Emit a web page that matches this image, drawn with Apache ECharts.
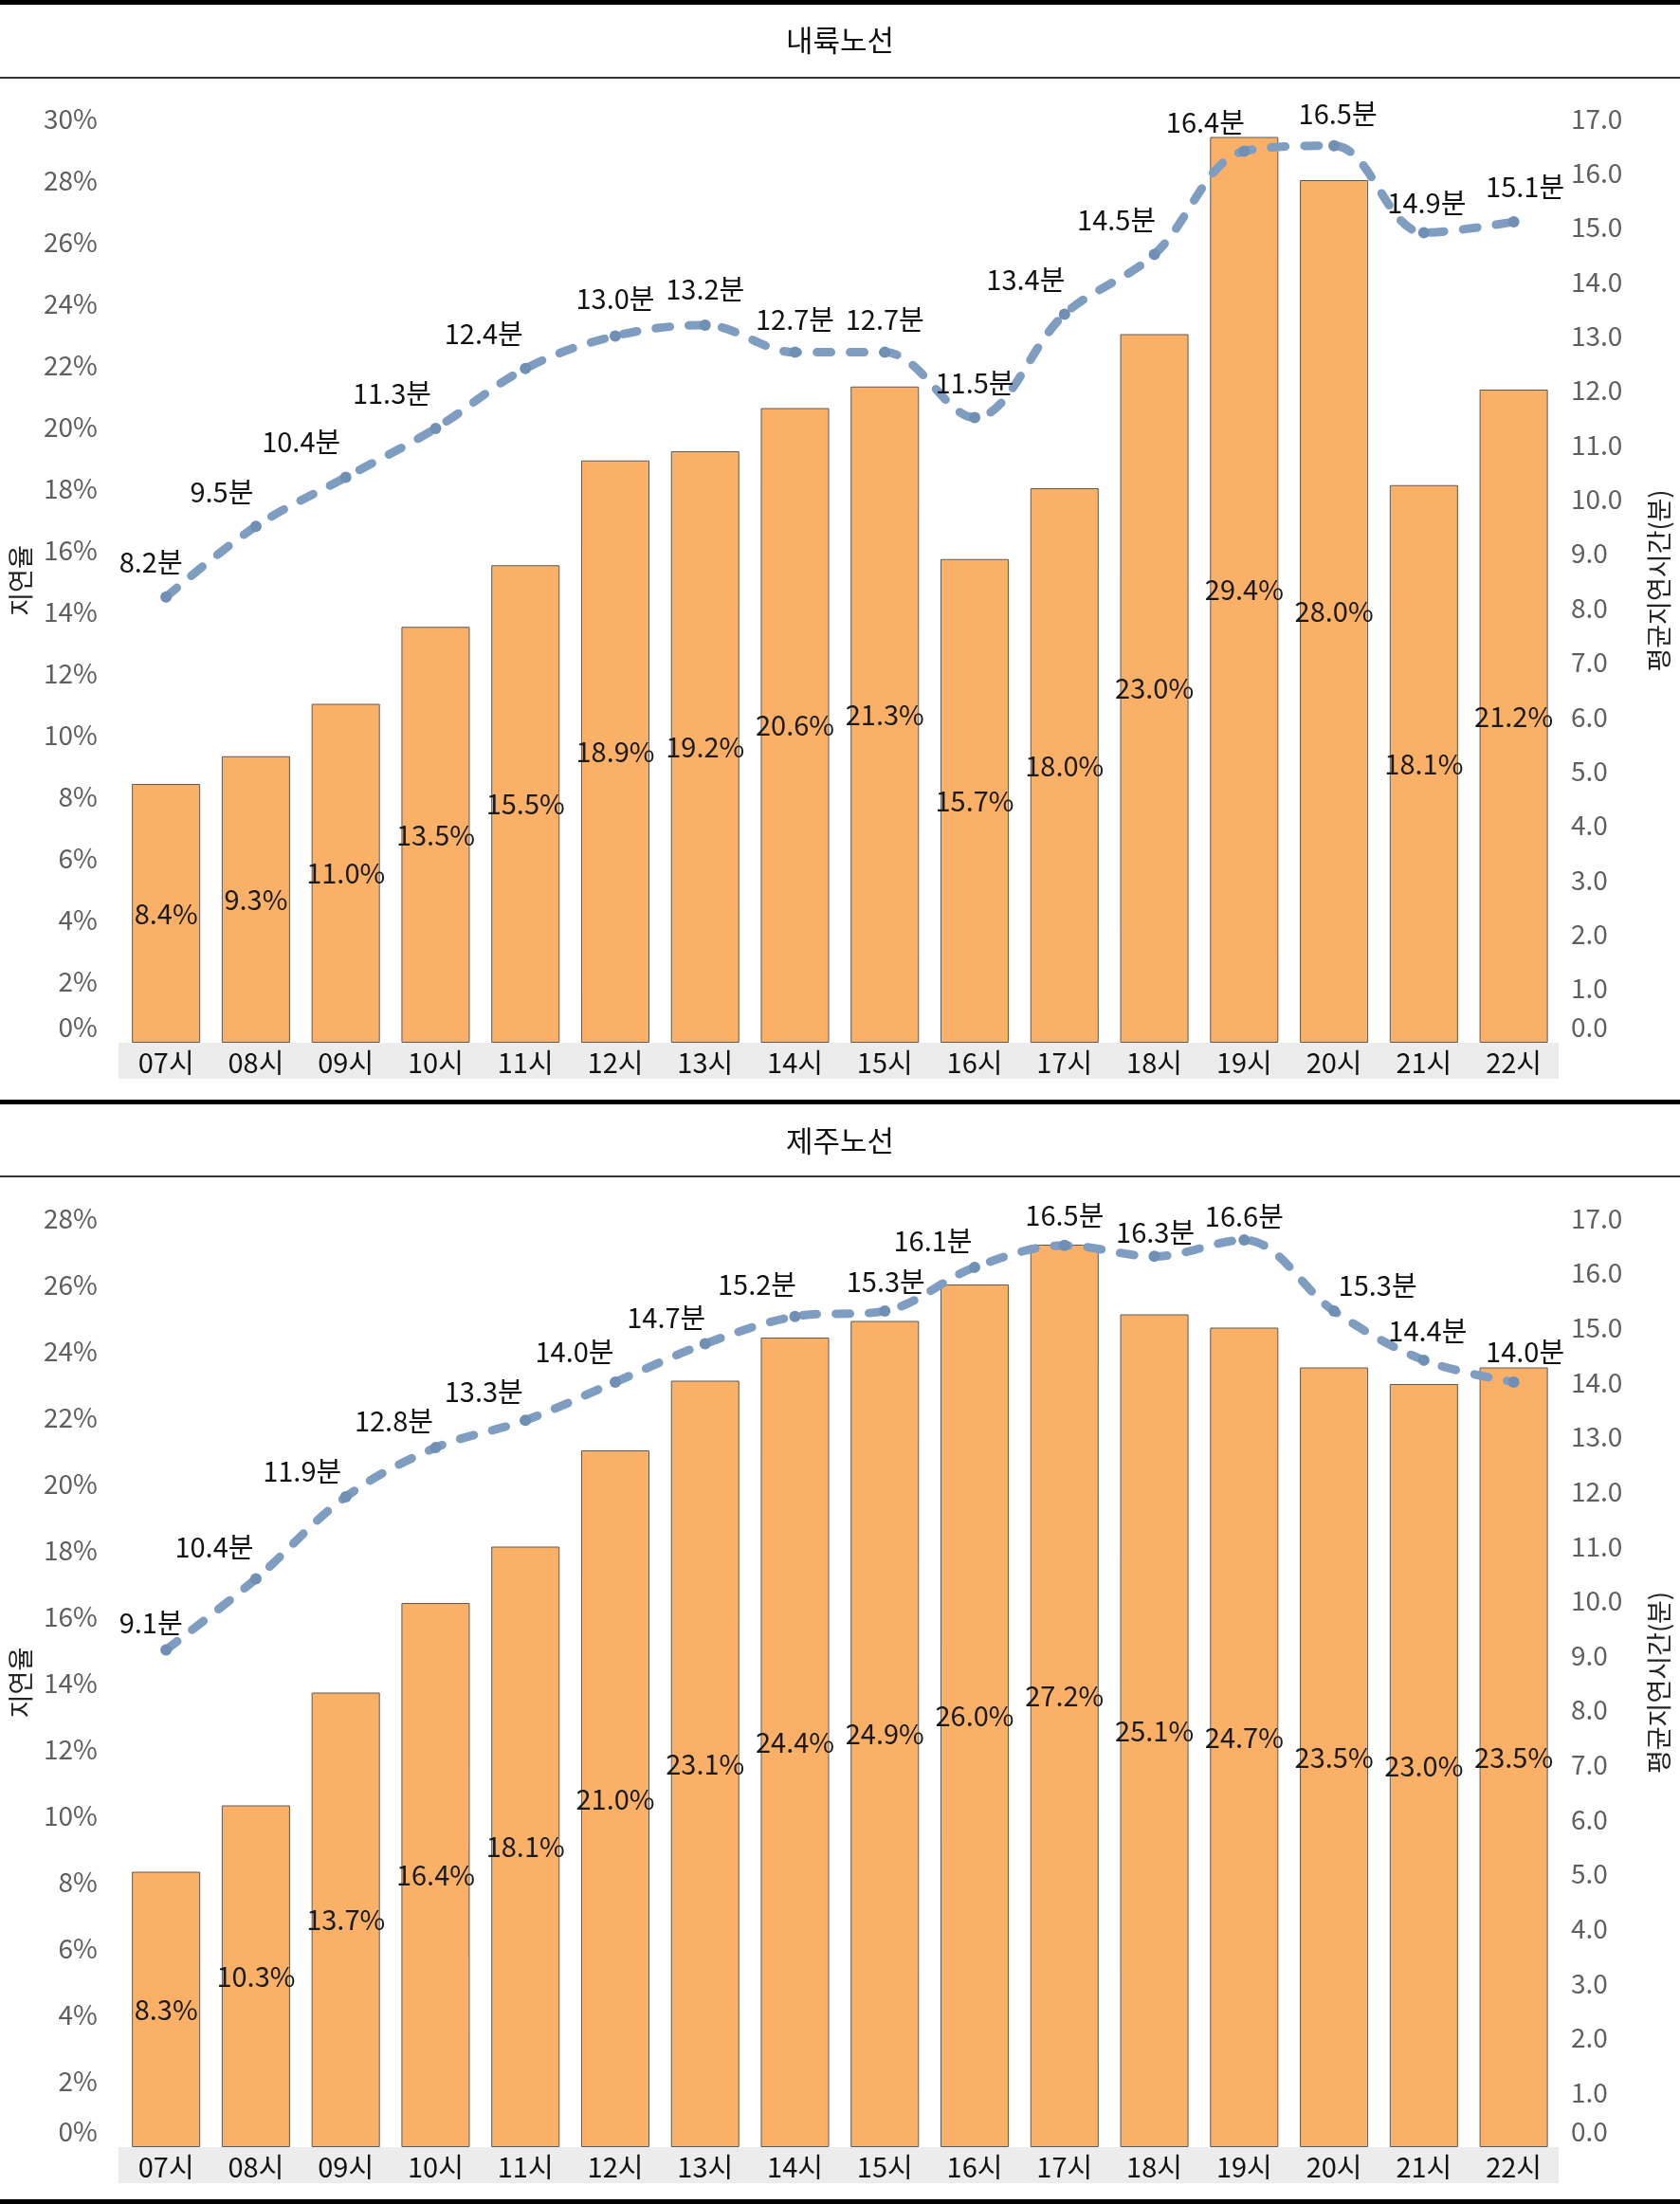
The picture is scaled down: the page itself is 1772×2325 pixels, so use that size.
<!DOCTYPE html>
<html>
<head>
<meta charset="utf-8">
<script src="https://cdn.jsdelivr.net/npm/echarts@6/dist/echarts.min.js"></script>
<style>
  html, body { margin: 0; padding: 0; background: #fff; }
  #chart { width: 1772px; height: 2325px; }
</style>
</head>
<body>
<div id="chart"></div>
<script>
// 시간대 (categories)
const hours = ['07시', '08시', '09시', '10시', '11시', '12시', '13시', '14시', '15시', '16시', '17시', '18시', '19시', '20시', '21시', '22시'];

// 내륙노선
const inlandRate = [8.4, 9.3, 11.0, 13.5, 15.5, 18.9, 19.2, 20.6, 21.3, 15.7, 18.0, 23.0, 29.4, 28.0, 18.1, 21.2];
const inlandDelay = [8.2, 9.5, 10.4, 11.3, 12.4, 13.0, 13.2, 12.7, 12.7, 11.5, 13.4, 14.5, 16.4, 16.5, 14.9, 15.1];

// 제주노선
const jejuRate = [8.3, 10.3, 13.7, 16.4, 18.1, 21.0, 23.1, 24.4, 24.9, 26.0, 27.2, 25.1, 24.7, 23.5, 23.0, 23.5];
const jejuDelay = [9.1, 10.4, 11.9, 12.8, 13.3, 14.0, 14.7, 15.2, 15.3, 16.1, 16.5, 16.3, 16.6, 15.3, 14.4, 14.0];

// label nudges for the line labels (layout only)
const inlandLabelShift = [[-16, -11], [-36, -11], [-47, -12], [-46, -11], [-44, -11], [0, -14], [0, -12], [0, -9], [0, -9], [0, -11], [-41, -11], [-40, -11], [-41, -5], [4, -8], [3, -6], [12, -11]];
const jejuLabelShift = [[-16, -3], [-44, -8], [-46, -2], [-44, -3], [-44, -5], [-43, -6], [-41, -2], [-40, -8], [1, -6], [-44, -2], [0, -6], [1, 0], [0, 0], [46, -2], [4, -5], [12, -6]];

const FONT = '"Noto Sans CJK KR", "Noto Sans", sans-serif';
const W = 1772;
const PLOT_L = 125, PLOT_R = 1644;

const grids = [
  { top: 125, bottom: 1100 },
  { top: 1285, bottom: 2265 }
];

function leftAxis(gridIndex, max) {
  return {
    type: 'value', gridIndex: gridIndex, position: 'left',
    min: 0, max: max, interval: 2,
    name: '지연율', nameLocation: 'middle', nameRotate: 90, nameGap: 84,
    nameTextStyle: { fontFamily: FONT, fontSize: 27, color: '#222' },
    axisLine: { show: false }, axisTick: { show: false }, splitLine: { show: false },
    axisLabel: {
      margin: 25, fontFamily: FONT, fontSize: 28, color: '#5f5f5f',
      formatter: v => v === 0 ? '{z|0%}' : v + '%',
      rich: { z: { fontFamily: FONT, fontSize: 28, color: '#5f5f5f', padding: [0, 0, 34, 0] } }
    }
  };
}

function rightAxis(gridIndex) {
  return {
    type: 'value', gridIndex: gridIndex, position: 'right',
    min: 0, max: 17, interval: 1,
    name: '평균지연시간(분)', nameLocation: 'middle', nameRotate: 90, nameGap: 92,
    nameTextStyle: { fontFamily: FONT, fontSize: 27, color: '#222' },
    axisLine: { show: false }, axisTick: { show: false }, splitLine: { show: false },
    axisLabel: {
      margin: 13, fontFamily: FONT, fontSize: 28, color: '#5f5f5f',
      formatter: v => v === 0 ? '{z|0.0}' : v.toFixed(1),
      rich: { z: { fontFamily: FONT, fontSize: 28, color: '#5f5f5f', padding: [0, 0, 34, 0] } }
    }
  };
}

function barSeries(data, xi, yi) {
  return {
    type: 'bar', xAxisIndex: xi, yAxisIndex: yi, data: data,
    barCategoryGap: '24%',
    itemStyle: { color: '#fbb067', borderColor: '#5a5a5a', borderWidth: 1 },
    label: {
      show: true, position: 'inside', fontFamily: FONT, fontSize: 29, color: '#1a1a1a',
      formatter: p => p.value.toFixed(1) + '%'
    },
    z: 2
  };
}

function lineSeries(values, shifts, xi, yi) {
  return {
    type: 'line', xAxisIndex: xi, yAxisIndex: yi,
    data: values.map((v, i) => ({ value: v, label: { offset: shifts[i] } })),
    smooth: 0.35,
    symbol: 'circle', symbolSize: 12,
    itemStyle: { color: '#6f8fb4' },
    lineStyle: { color: '#7f9dc0', width: 9, type: [15, 20], cap: 'round' },
    label: {
      show: true, position: 'top', distance: 5, fontFamily: FONT, fontSize: 29, color: '#111',
      formatter: p => p.value.toFixed(1) + '분'
    },
    z: 5
  };
}

function hRule(y, h, color) {
  return { type: 'rect', z: 10, shape: { x: 0, y: y, width: W, height: h }, style: { fill: color } };
}

function band(y) {
  return { type: 'rect', z: -1, shape: { x: PLOT_L, y: y, width: PLOT_R - PLOT_L, height: 38 }, style: { fill: '#ececec' } };
}

function title(text, y) {
  return {
    type: 'text', z: 10, x: W / 2, y: y,
    style: { text: text, fontFamily: FONT, fontSize: 31, fill: '#111', align: 'center', verticalAlign: 'middle' }
  };
}

const chart = echarts.init(document.getElementById('chart'));
chart.setOption({
  animation: false,
  backgroundColor: '#fff',
  grid: grids.map(g => ({ left: PLOT_L, right: W - PLOT_R, top: g.top, height: g.bottom - g.top })),
  xAxis: [0, 1].map(i => ({
    type: 'category', gridIndex: i, data: hours,
    axisLine: { show: false }, axisTick: { show: false },
    axisLabel: { margin: 6, fontFamily: FONT, fontSize: 29, color: '#111' }
  })),
  yAxis: [leftAxis(0, 30), rightAxis(0), leftAxis(1, 28), rightAxis(1)],
  series: [
    barSeries(inlandRate, 0, 0),
    lineSeries(inlandDelay, inlandLabelShift, 0, 1),
    barSeries(jejuRate, 1, 2),
    lineSeries(jejuDelay, jejuLabelShift, 1, 3)
  ],
  graphic: { elements: [
    hRule(0, 5, '#000'),
    title('내륙노선', 42),
    hRule(81, 2, '#333'),
    band(1100),
    hRule(1160, 5, '#000'),
    title('제주노선', 1203),
    hRule(1240, 2, '#333'),
    band(2265),
    hRule(2320, 5, '#000')
  ] }
});
</script>
</body>
</html>
